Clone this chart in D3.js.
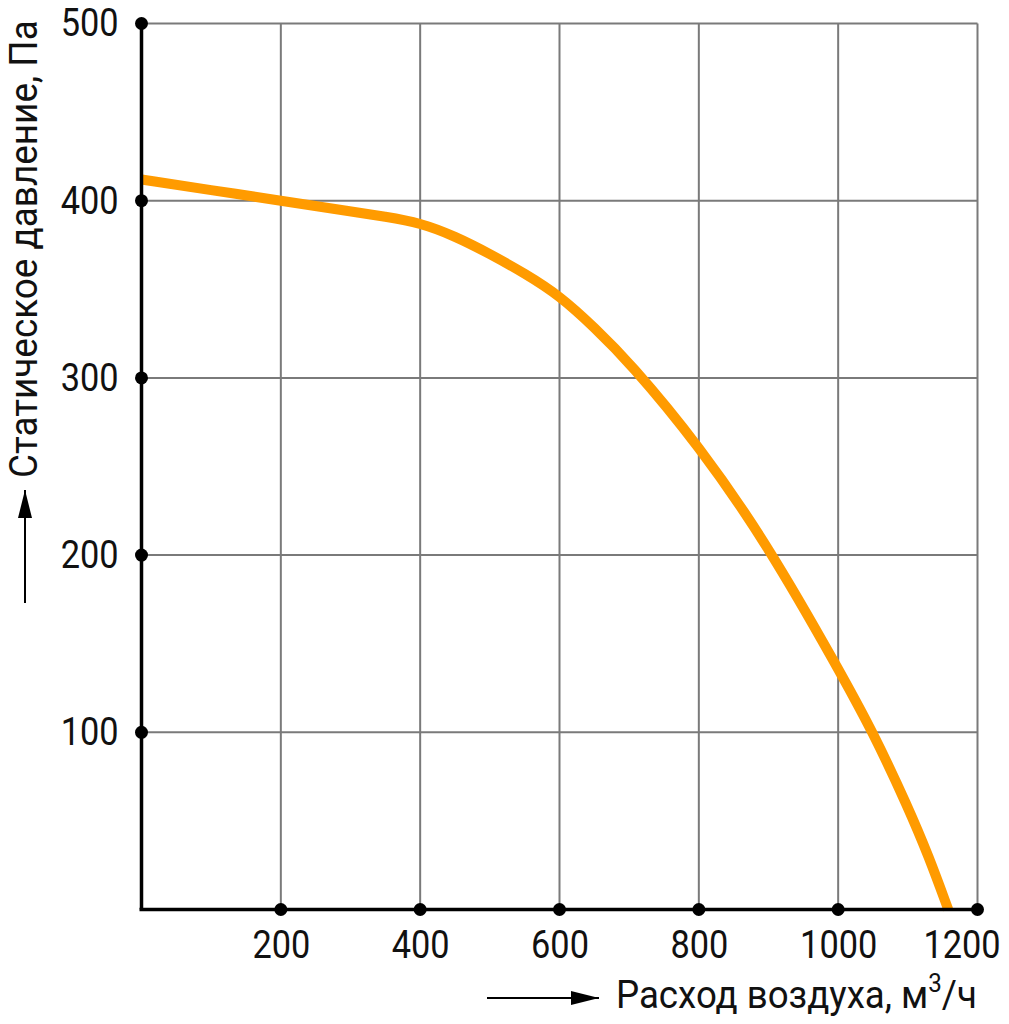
<!DOCTYPE html>
<html lang="ru">
<head>
    <meta charset="utf-8">
    <title>Характеристика вентилятора</title>
    <script src="https://cdnjs.cloudflare.com/ajax/libs/d3/7.8.5/d3.min.js"></script>
    <style>
        body { margin: 0; background: #fff; }
        text { font-family: "Roboto", "Liberation Sans", sans-serif; fill: #111; }
    </style>
</head>
<body>
    <script>
    // data
    var flow = [0, 100, 200, 300, 350, 400, 450, 500, 550, 600, 650, 700, 800, 900, 1000, 1050, 1100, 1130, 1158];
    var pressure = [412, 406, 400, 394, 391, 387.5, 380, 370, 359, 346.5, 328.5, 309, 262, 205, 136, 100, 58, 30, 0];
    var xTicks = [200, 400, 600, 800, 1000, 1200];
    var yTicks = [100, 200, 300, 400, 500];

    var W = 1009, H = 1024;
    var margin = {top: 23.5, right: 31.5, bottom: 114.5, left: 141.5};

    var x = d3.scaleLinear().domain([0, 1200]).range([margin.left, W - margin.right]);
    var y = d3.scaleLinear().domain([0, 500]).range([H - margin.bottom, margin.top]);

    var svg = d3.select("body").append("svg")
        .attr("width", W)
        .attr("height", H);

    // squeeze a text horizontally so it fills the given width
    function fitWidth(sel, tx, ty, target, rot) {
        var w = sel.node().getBBox().width;
        sel.attr("transform", "translate(" + tx + "," + ty + ")" + (rot ? " rotate(" + rot + ")" : "") +
            " scale(" + (target / w) + ",1)");
    }

    // grid
    svg.append("g")
        .selectAll("line")
        .data(xTicks)
        .enter().append("line")
        .attr("x1", function(d) { return x(d); })
        .attr("x2", function(d) { return x(d); })
        .attr("y1", y(0))
        .attr("y2", y(500))
        .attr("stroke", "#7a7a7a")
        .attr("stroke-width", 2);

    svg.append("g")
        .selectAll("line")
        .data(yTicks)
        .enter().append("line")
        .attr("x1", x(0))
        .attr("x2", x(1200))
        .attr("y1", function(d) { return y(d); })
        .attr("y2", function(d) { return y(d); })
        .attr("stroke", "#7a7a7a")
        .attr("stroke-width", 2);

    // the fan curve
    var line = d3.line()
        .x(function(d, i) { return x(flow[i]); })
        .y(function(d) { return y(d); })
        .curve(d3.curveBasis);

    svg.append("path")
        .datum(pressure)
        .attr("d", line)
        .attr("fill", "none")
        .attr("stroke", "#ff9b00")
        .attr("stroke-width", 10);

    // axis lines
    svg.append("line")
        .attr("x1", x(0) - 2).attr("x2", x(1200))
        .attr("y1", y(0)).attr("y2", y(0))
        .attr("stroke", "#000").attr("stroke-width", 3.5);
    svg.append("line")
        .attr("x1", x(0)).attr("x2", x(0))
        .attr("y1", y(0)).attr("y2", y(500))
        .attr("stroke", "#000").attr("stroke-width", 3.5);

    // x axis labels
    var xAxis = svg.append("g")
        .attr("transform", "translate(0," + y(0) + ")")
        .call(d3.axisBottom(x).tickValues(xTicks).tickFormat(d3.format("d")).tickSize(0).tickPadding(21));
    xAxis.select(".domain").remove();
    xAxis.selectAll("text")
        .attr("font-family", null)
        .attr("font-size", 39)
        .attr("transform", "scale(0.88,1)")
        .style("fill", "#111");
    // last label is pulled in so it stays inside the picture
    xAxis.selectAll(".tick").filter(function(d) { return d === 1200; }).select("text")
        .attr("text-anchor", "end")
        .attr("x", (1000 - x(1200)) / 0.88);

    // y axis labels
    var yAxis = svg.append("g")
        .attr("transform", "translate(" + x(0) + ",0)")
        .call(d3.axisLeft(y).tickValues(yTicks).tickFormat(d3.format("d")).tickSize(0).tickPadding(26));
    yAxis.select(".domain").remove();
    yAxis.selectAll("text")
        .attr("font-family", null)
        .attr("font-size", 39)
        .attr("transform", "scale(0.88,1)")
        .style("fill", "#111");

    // tick dots
    svg.append("g")
        .selectAll("circle")
        .data(xTicks)
        .enter().append("circle")
        .attr("cx", function(d) { return x(d); })
        .attr("cy", y(0))
        .attr("r", 6.5)
        .attr("fill", "#000");
    svg.append("g")
        .selectAll("circle")
        .data(yTicks)
        .enter().append("circle")
        .attr("cx", x(0))
        .attr("cy", function(d) { return y(d); })
        .attr("r", 6.5)
        .attr("fill", "#000");

    // arrowhead
    svg.append("defs").append("marker")
        .attr("id", "arr")
        .attr("viewBox", "0 0 28 14")
        .attr("refX", 28).attr("refY", 7)
        .attr("markerWidth", 28).attr("markerHeight", 14)
        .attr("markerUnits", "userSpaceOnUse")
        .attr("orient", "auto")
        .append("path")
        .attr("d", "M0,0 L28,7 L0,14 Z")
        .attr("fill", "#000");

    // x title
    svg.append("line")
        .attr("x1", 487).attr("x2", 599)
        .attr("y1", 998).attr("y2", 998)
        .attr("stroke", "#000").attr("stroke-width", 2)
        .attr("marker-end", "url(#arr)");
    var xt = svg.append("text")
        .attr("font-size", 38);
    xt.append("tspan").text("Расход воздуха, м");
    xt.append("tspan").attr("font-size", 25).attr("dy", -16).text("3");
    xt.append("tspan").attr("dy", 16).text("/ч");
    fitWidth(xt, 616, 1008, 361);

    // y title
    svg.append("line")
        .attr("x1", 25).attr("x2", 25)
        .attr("y1", 603).attr("y2", 490)
        .attr("stroke", "#000").attr("stroke-width", 2)
        .attr("marker-end", "url(#arr)");
    var yt = svg.append("text")
        .attr("font-size", 38)
        .text("Статическое давление, Па");
    fitWidth(yt, 37, 478, 458, -90);
    </script>
</body>
</html>
